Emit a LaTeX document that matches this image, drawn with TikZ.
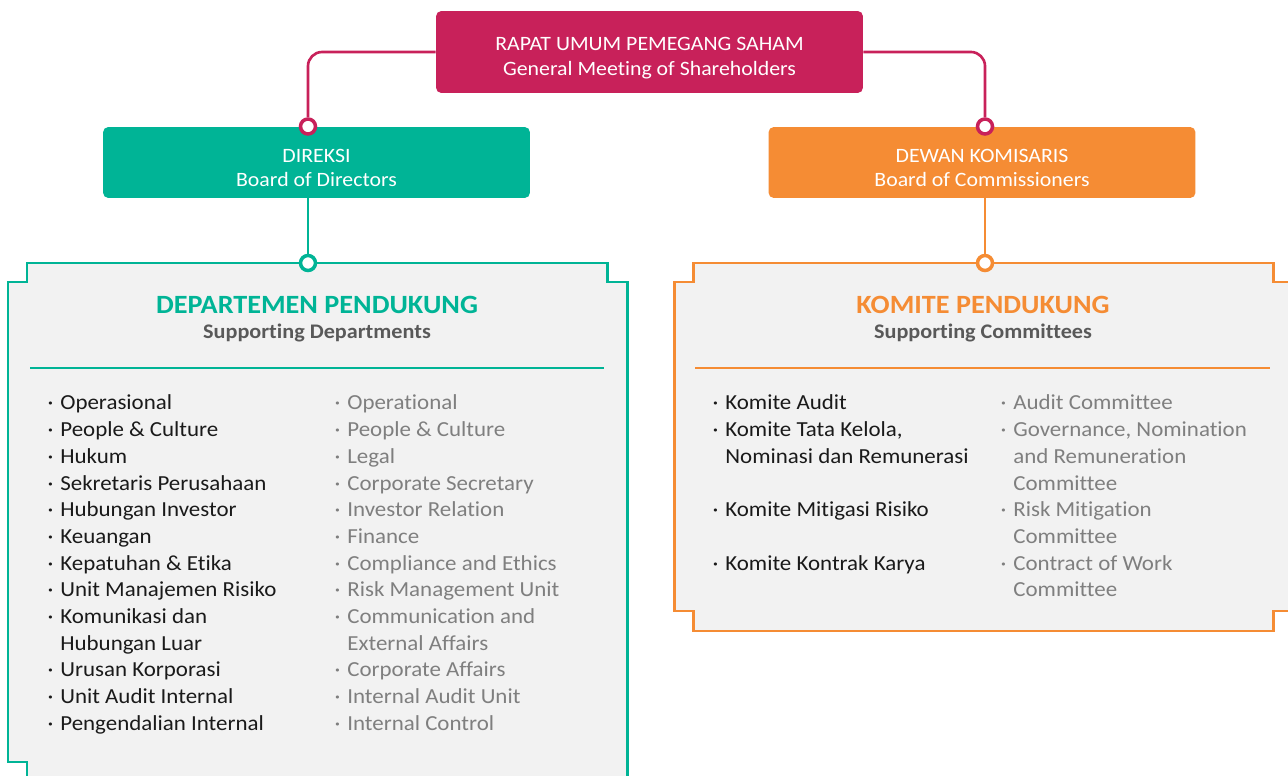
\documentclass[tikz,border=0pt]{standalone}
\usepackage{fontspec}
\setmainfont{Carlito}[FakeStretch=1.07, Ligatures=NoCommon]
\usetikzlibrary{positioning, calc}

\definecolor{rupsred}{HTML}{C8215A}
\definecolor{dirgreen}{HTML}{00B496}
\definecolor{komorange}{HTML}{F58C34}
\definecolor{panelgray}{HTML}{F2F2F2}
\definecolor{subgray}{HTML}{595959}
\definecolor{engray}{HTML}{7F7F7F}
\definecolor{idblack}{HTML}{1A1A1A}

\newcommand{\listdot}{\llap{\textperiodcentered\hspace{4pt}}}
\newcommand{\boxlift}[1]{\rule{0pt}{#1}}

\tikzset{
  headbox/.style={fill=#1, rounded corners=3pt, text=white, align=center,
    minimum width=8.54cm, inner sep=0pt, font=\fontsize{11.6}{13.7}\selectfont},
  jointdot/.style={circle, draw=#1, fill=white, line width=2pt, inner sep=0pt, minimum size=0.3cm},
  linkline/.style={draw=#1, line width=1.5pt},
  panel/.style={draw=#1, fill=panelgray, line width=1.7pt},
  paneltitle/.style={text=#1, font=\fontsize{15}{17}\selectfont\bfseries, inner sep=0pt},
  panelsub/.style={text=subgray, font=\fontsize{11.8}{13}\selectfont\bfseries, inner sep=0pt},
  listtext/.style={text=#1, anchor=base west, inner sep=0pt, font=\fontsize{12.2}{14}\selectfont},
}

\begin{document}
\begin{tikzpicture}[x=0.02cm, y=-0.02cm]
  \clip (0,0) rectangle (1288,776);

  % --- Panel Departemen ---
  \path[panel=dirgreen] (8,282) -- (27,282) -- (27,263) -- (607,263) -- (607,282) -- (627,282)
    -- (627,800) -- (27,800) -- (27,762) -- (8,762) -- cycle;
  \draw[dirgreen, line width=1.1pt] (30,368) -- (604,368);
  \node[paneltitle=dirgreen] (deptitle) at (317,305) {DEPARTEMEN PENDUKUNG};
  \node[panelsub] (depsub) at (317,333) {Supporting Departments};

  % --- Panel Komite ---
  \path[panel=komorange] (674,282) -- (693,282) -- (693,263) -- (1273,263) -- (1273,282) -- (1292,282)
    -- (1292,611) -- (1273,611) -- (1273,631) -- (693,631) -- (693,611) -- (674,611) -- cycle;
  \draw[komorange, line width=1.1pt] (695,368) -- (1270,368);
  \node[paneltitle=komorange] (komtitle) at (983,305) {KOMITE PENDUKUNG};
  \node[panelsub] (komsub) at (983,333) {Supporting Committees};

  % --- Kotak atas ---
  \node[headbox=rupsred, minimum height=1.64cm] (rups) at (649.5,52)
    {\boxlift{14.5pt}RAPAT UMUM PEMEGANG SAHAM\\General Meeting of Shareholders};
  \node[headbox=dirgreen, minimum height=1.42cm] (dir) at (316.5,162.5)
    {\boxlift{14pt}DIREKSI\\Board of Directors};
  \node[headbox=komorange, minimum height=1.42cm] (dek) at (982,162.5)
    {\boxlift{14pt}DEWAN KOMISARIS\\Board of Commissioners};

  % --- Penghubung ---
  \node[jointdot=rupsred] (jdir) at (308,126.5) {};
  \node[jointdot=rupsred] (jdek) at (985,126.5) {};
  \node[jointdot=dirgreen] (jdep) at (308,263) {};
  \node[jointdot=komorange] (jkom) at (985,263) {};
  \draw[linkline=rupsred, rounded corners=8pt] (rups.west) -| (jdir);
  \draw[linkline=rupsred, rounded corners=8pt] (rups.east) -| (jdek);
  \draw[linkline=dirgreen] (dir.south -| jdep) -- (jdep);
  \draw[linkline=komorange] (dek.south -| jkom) -- (jkom);

  % --- Daftar departemen ---
  \foreach \r/\b/\t in {0/1/Operasional, 1/1/People \& Culture, 2/1/Hukum,
      3/1/Sekretaris Perusahaan, 4/1/Hubungan Investor, 5/1/Keuangan,
      6/1/Kepatuhan \& Etika, 7/1/Unit Manajemen Risiko, 8/1/Komunikasi dan,
      9/0/Hubungan Luar, 10/1/Urusan Korporasi, 11/1/Unit Audit Internal,
      12/1/Pengendalian Internal}
    \node[listtext=idblack] (idl\r) at (60,{410+26.67*\r}) {\ifnum\b=1\listdot\fi\t};
  \foreach \r/\b/\t in {0/1/Operational, 1/1/People \& Culture, 2/1/Legal,
      3/1/Corporate Secretary, 4/1/Investor Relation, 5/1/Finance,
      6/1/Compliance and Ethics, 7/1/Risk Management Unit, 8/1/Communication and,
      9/0/External Affairs, 10/1/Corporate Affairs, 11/1/Internal Audit Unit,
      12/1/Internal Control}
    \node[listtext=engray] (enl\r) at (347,{410+26.67*\r}) {\ifnum\b=1\listdot\fi\t};

  % --- Daftar komite ---
  \foreach \r/\b/\t in {0/1/Komite Audit, 1/1/{Komite Tata Kelola,},
      2/0/Nominasi dan Remunerasi, 4/1/Komite Mitigasi Risiko, 6/1/Komite Kontrak Karya}
    \node[listtext=idblack] (idr\r) at (725,{410+26.67*\r}) {\ifnum\b=1\listdot\fi\t};
  \foreach \r/\b/\t in {0/1/Audit Committee, 1/1/{Governance, Nomination},
      2/0/and Remuneration, 3/0/Committee, 4/1/Risk Mitigation, 5/0/Committee,
      6/1/Contract of Work, 7/0/Committee}
    \node[listtext=engray] (enr\r) at (1013,{410+26.67*\r}) {\ifnum\b=1\listdot\fi\t};
\end{tikzpicture}
\end{document}
